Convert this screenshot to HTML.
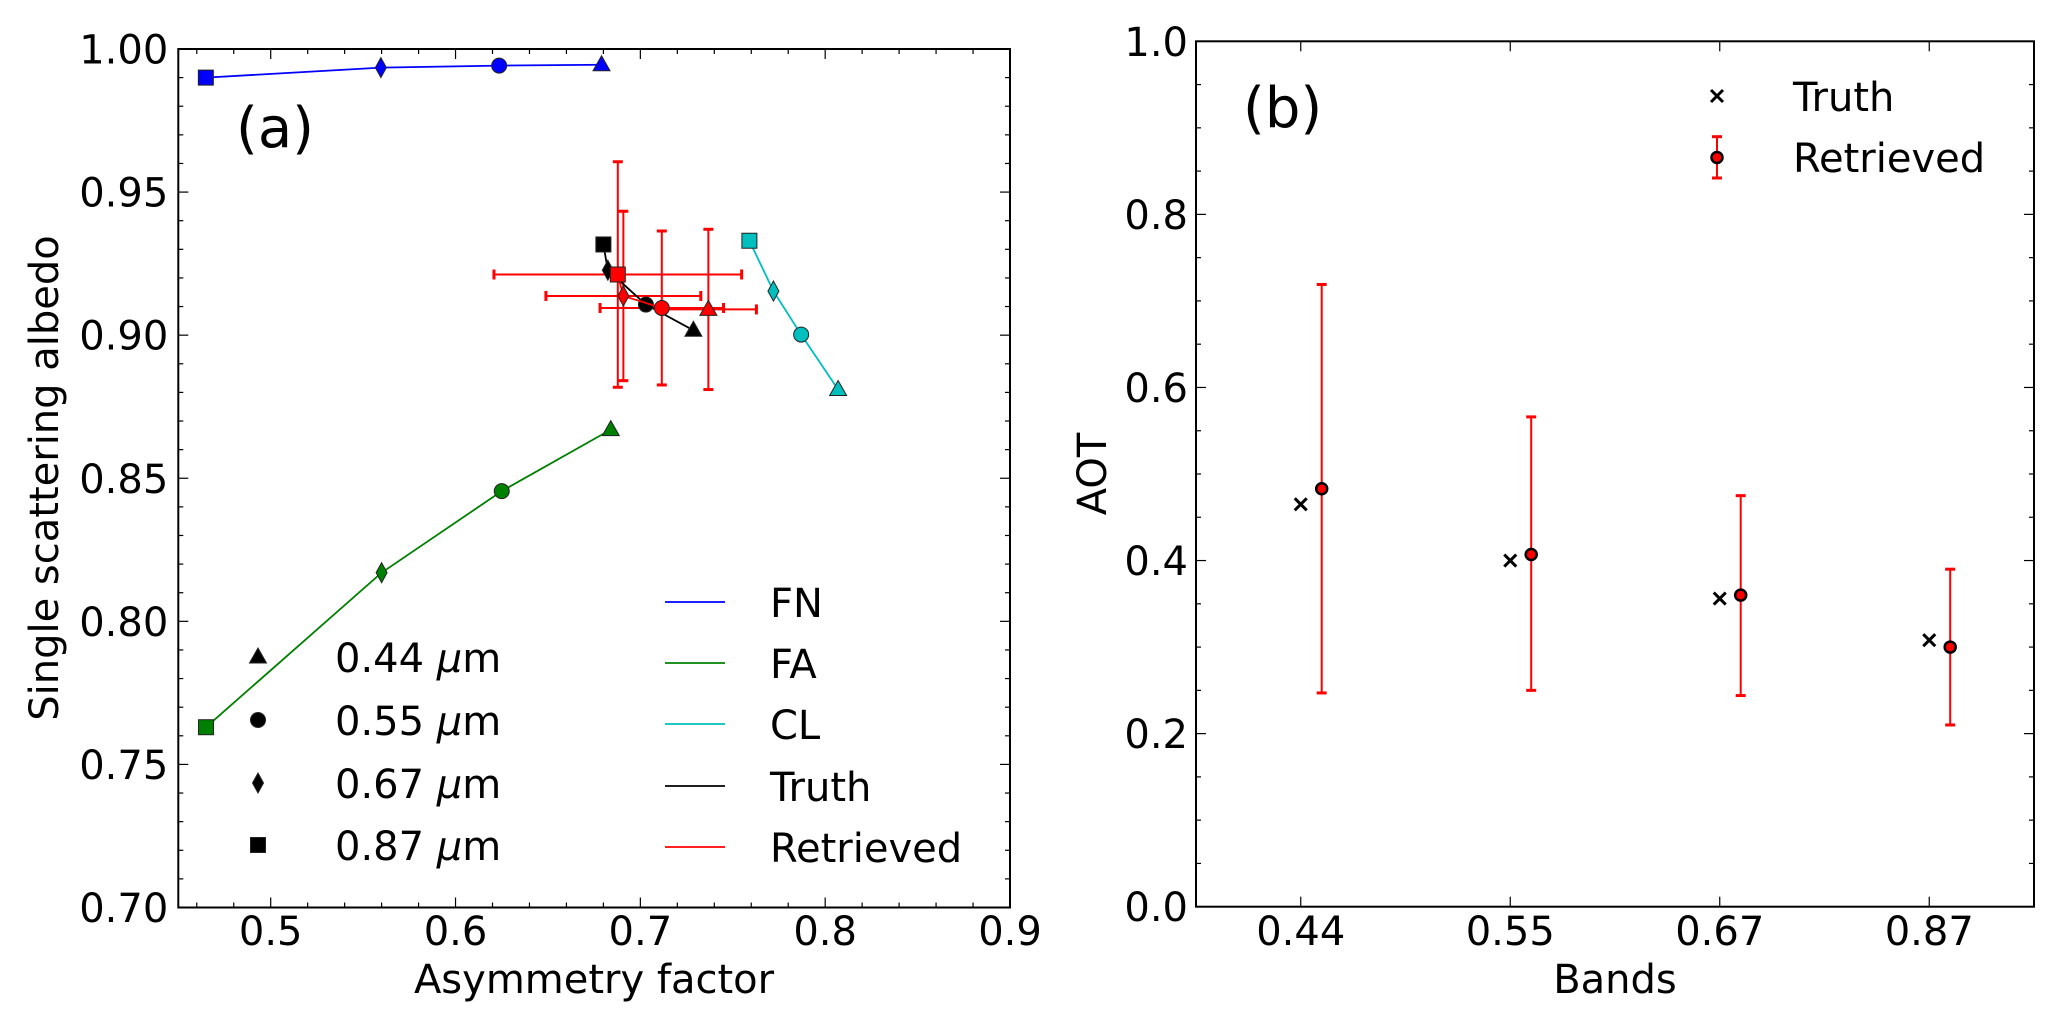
<!DOCTYPE html>
<html><head><meta charset="utf-8"><style>
html,body{margin:0;padding:0;background:#fff;}
svg{display:block;font-family:"DejaVu Sans","Liberation Sans",sans-serif;}
</style></head><body>
<svg id="fig" width="2067" height="1024" viewBox="0 0 2067 1024">
<g id="pa"></g>
<g id="pb"></g>
</svg>
<script>
// ---------- Panel (a) data ----------
const seriesNames = ["FN","FA","CL","Truth","Retrieved"];
const bandMarkers = ["tri","circ","diam","sq"]; // 0.44,0.55,0.67,0.87
const fnG = [0.679,0.6236,0.5596,0.4649];
const fnW = [0.9945,0.9942,0.9935,0.990];
const faG = [0.684,0.625,0.560,0.465];
const faW = [0.867,0.8455,0.817,0.763];
const clG = [0.807,0.787,0.772,0.759];
const clW = [0.881,0.9002,0.9154,0.933];
const truthG = [0.7287,0.703,0.6824,0.680];
const truthW = [0.9017,0.9107,0.9227,0.9317];
const retG = [0.7368,0.7116,0.6908,0.6878];
const retW = [0.9090,0.9095,0.9137,0.9212];
const retGerr = [0.026,0.0334,0.0419,0.067];
const retWerr = [0.028,0.0269,0.0296,0.0394];
const xTicksA = [0.5,0.6,0.7,0.8,0.9];
const yTicksA = [0.70,0.75,0.80,0.85,0.90,0.95,1.00];
const bandLabelsA = ["0.44 ","0.55 ","0.67 ","0.87 "];

// ---------- Panel (b) data ----------
const bands = ["0.44","0.55","0.67","0.87"];
const aotTruth = [0.465,0.400,0.356,0.308];
const aotRet = [0.483,0.407,0.360,0.300];
const aotHi = [0.719,0.566,0.475,0.390];
const aotLo = [0.247,0.250,0.244,0.210];
const yTicksB = [0.0,0.2,0.4,0.6,0.8,1.0];

const FS=40;
const NS="http://www.w3.org/2000/svg";
function mk(parent,tag,attrs){const e=document.createElementNS(NS,tag);for(const k in attrs)e.setAttribute(k,attrs[k]);parent.appendChild(e);return e;}

// ===== Panel A =====
const A=document.getElementById('pa');
const aL=178.3,aR=1010,aT=49,aB=907.5;
const xA=g=>aL+(g-0.45)/(0.45)*(aR-aL);
const yA=w=>aB-(w-0.70)/(0.30)*(aB-aT);

function marker(parent,type,cx,cy,fill,name){
  let e;
  if(type==="sq"){e=mk(parent,'rect',{x:cx-7.5,y:cy-7.5,width:15,height:15});}
  else if(type==="circ"){e=mk(parent,'circle',{cx:cx,cy:cy,r:7.5});}
  else if(type==="tri"){e=mk(parent,'polygon',{points:`${cx},${cy-9} ${cx+8.5},${cy+6} ${cx-8.5},${cy+6}`});}
  else {e=mk(parent,'polygon',{points:`${cx},${cy-10} ${cx+5.5},${cy} ${cx},${cy+10} ${cx-5.5},${cy}`});}
  e.setAttribute('fill',fill);e.setAttribute('stroke','#222');e.setAttribute('stroke-width','1');
  
  
  return e;
}

// frame & ticks
mk(A,'rect',{x:aL,y:aT,width:aR-aL,height:aB-aT,fill:'none',stroke:'#000','stroke-width':2});
for(let i=0;i<=22;i++){const g=0.46+i*0.02;if(g>0.9001)break;const x=xA(g);const major=Math.abs((g*10)-Math.round(g*10))<1e-6;const L=major?10:5;
  mk(A,'line',{x1:x,y1:aB,x2:x,y2:aB-L,stroke:'#000','stroke-width':1.2});
  mk(A,'line',{x1:x,y1:aT,x2:x,y2:aT+L,stroke:'#000','stroke-width':1.2});}
for(let i=0;i<=30;i++){const w=0.70+i*0.01;const y=yA(w);const major=i%5===0;const L=major?10:5;
  mk(A,'line',{x1:aL,y1:y,x2:aL+L,y2:y,stroke:'#000','stroke-width':1.2});
  mk(A,'line',{x1:aR,y1:y,x2:aR-L,y2:y,stroke:'#000','stroke-width':1.2});}
xTicksA.forEach(v=>{const t=mk(A,'text',{x:xA(v),y:945,'font-size':FS,'text-anchor':'middle'});t.textContent=v.toFixed(1);
  
  });
yTicksA.forEach(v=>{const t=mk(A,'text',{x:aL-10,y:yA(v)+14.5,'font-size':FS,'text-anchor':'end'});t.textContent=v.toFixed(2);
  
  });
let t=mk(A,'text',{x:594,y:993,'font-size':FS,'text-anchor':'middle'});t.textContent="Asymmetry factor";


t=mk(A,'text',{x:0,y:0,'font-size':FS,'text-anchor':'middle',transform:'translate(58,478) rotate(-90)'});t.textContent="Single scattering albedo";


t=mk(A,'text',{x:236,y:147,'font-size':56});t.textContent="(a)";



// series
function series(G,W,color,name){
  const order=[3,2,1,0];
  const pts=order.map(i=>`${xA(G[i])},${yA(W[i])}`).join(' ');
  const pl=mk(A,'polyline',{points:pts,fill:'none',stroke:color,'stroke-width':1.8});
  
  
  for(let i=0;i<4;i++)marker(A,bandMarkers[i],xA(G[i]),yA(W[i]),color,name+'-marker-'+bands[i]);
}
series(fnG,fnW,'#0000ff','fn');
series(faG,faW,'#008000','fa');
series(clG,clW,'#00bfbf','cl');
// error bars for retrieved
for(let i=0;i<4;i++){
  const cx=xA(retG[i]),cy=yA(retW[i]);
  const x1=xA(retG[i]-retGerr[i]),x2=xA(retG[i]+retGerr[i]);
  const y1=yA(retW[i]+retWerr[i]),y2=yA(retW[i]-retWerr[i]);
  const g=mk(A,'g',{stroke:'#ff0000','stroke-width':2});
  
  
  mk(g,'line',{x1:x1,y1:cy,x2:x2,y2:cy});
  mk(g,'line',{x1:cx,y1:y1,x2:cx,y2:y2});
  mk(g,'line',{x1:x1,y1:cy-5,x2:x1,y2:cy+5,'stroke-width':3});
  mk(g,'line',{x1:x2,y1:cy-5,x2:x2,y2:cy+5,'stroke-width':3});
  mk(g,'line',{x1:cx-5,y1:y1,x2:cx+5,y2:y1,'stroke-width':3});
  mk(g,'line',{x1:cx-5,y1:y2,x2:cx+5,y2:y2,'stroke-width':3});
}
series(truthG,truthW,'#000000','truth');
series(retG,retW,'#ff0000','retrieved');

// legends panel a
const legRowsA=[657,720,783,845];
for(let i=0;i<4;i++){
  marker(A,bandMarkers[i],258,legRowsA[i],'#000','legend-marker-'+bands[i]);
  const tx=mk(A,'text',{x:335,y:legRowsA[i]+15,'font-size':FS});
  tx.textContent=bandLabelsA[i];
  const it=mk(tx,'tspan',{'font-style':'italic'});it.textContent="μ";
  const ms=mk(tx,'tspan',{});ms.textContent="m";
  
  
}
const legCols=['#0000ff','#008000','#00bfbf','#000000','#ff0000'];
const legRowsB=[602,663,724,786,847];
for(let i=0;i<5;i++){
  const l=mk(A,'line',{x1:665,y1:legRowsB[i],x2:725,y2:legRowsB[i],stroke:legCols[i],'stroke-width':1.8});
  
  
  const tx=mk(A,'text',{x:770,y:legRowsB[i]+15,'font-size':FS});tx.textContent=seriesNames[i];
  
  
}

// ===== Panel B =====
const B=document.getElementById('pb');
const bL=1196,bR=2034,bT=41.3,bB=906.7;
const xB=i=>bL+(i+0.5)/4*(bR-bL);
const yB=v=>bB-v*(bB-bT);
mk(B,'rect',{x:bL,y:bT,width:bR-bL,height:bB-bT,fill:'none',stroke:'#000','stroke-width':2});
for(let i=0;i<=20;i++){const v=i*0.05;const y=yB(v);const L=i%4===0?10:5;
  mk(B,'line',{x1:bL,y1:y,x2:bL+L,y2:y,stroke:'#000','stroke-width':1.2});
  mk(B,'line',{x1:bR,y1:y,x2:bR-L,y2:y,stroke:'#000','stroke-width':1.2});}
bands.forEach((b,i)=>{const x=xB(i);
  mk(B,'line',{x1:x,y1:bB,x2:x,y2:bB-10,stroke:'#000','stroke-width':1.2});
  mk(B,'line',{x1:x,y1:bT,x2:x,y2:bT+10,stroke:'#000','stroke-width':1.2});
  const tx=mk(B,'text',{x:x,y:945,'font-size':FS,'text-anchor':'middle'});tx.textContent=b;
  
  });
yTicksB.forEach(v=>{const tx=mk(B,'text',{x:bL-8,y:yB(v)+14.5,'font-size':FS,'text-anchor':'end'});tx.textContent=v.toFixed(1);
  
  });
t=mk(B,'text',{x:1615,y:993,'font-size':FS,'text-anchor':'middle'});t.textContent="Bands";


t=mk(B,'text',{x:0,y:0,'font-size':FS,'text-anchor':'middle',transform:'translate(1106,474) rotate(-90)'});t.textContent="AOT";


t=mk(B,'text',{x:1243,y:127,'font-size':56});t.textContent="(b)";



function cross(parent,cx,cy,name){
  const g=mk(parent,'g',{stroke:'#000','stroke-width':3});
  mk(g,'line',{x1:cx-6,y1:cy-6,x2:cx+6,y2:cy+6});
  mk(g,'line',{x1:cx-6,y1:cy+6,x2:cx+6,y2:cy-6});
  
  
}
function retPoint(parent,cx,cy,y1,y2,name){
  const g=mk(parent,'g',{});
  
  
  mk(g,'line',{x1:cx,y1:y1,x2:cx,y2:y2,stroke:'#ff0000','stroke-width':2});
  mk(g,'line',{x1:cx-5,y1:y1,x2:cx+5,y2:y1,stroke:'#ff0000','stroke-width':3});
  mk(g,'line',{x1:cx-5,y1:y2,x2:cx+5,y2:y2,stroke:'#ff0000','stroke-width':3});
  mk(g,'circle',{cx:cx,cy:cy,r:5.5,fill:'#ff0000',stroke:'#000','stroke-width':2.5});
}
bands.forEach((b,i)=>{
  cross(B,xB(i),yB(aotTruth[i]),'truth-aot-'+b);
  retPoint(B,xB(i+0.1),yB(aotRet[i]),yB(aotHi[i]),yB(aotLo[i]),'retrieved-aot-'+b);
});
cross(B,1717,96,'legend-marker-truth');
retPoint(B,1717,157.5,136.7,178,'legend-marker-retrieved');
t=mk(B,'text',{x:1793,y:111,'font-size':FS});t.textContent="Truth";


t=mk(B,'text',{x:1793,y:172,'font-size':FS});t.textContent="Retrieved";


</script>
</body></html>
